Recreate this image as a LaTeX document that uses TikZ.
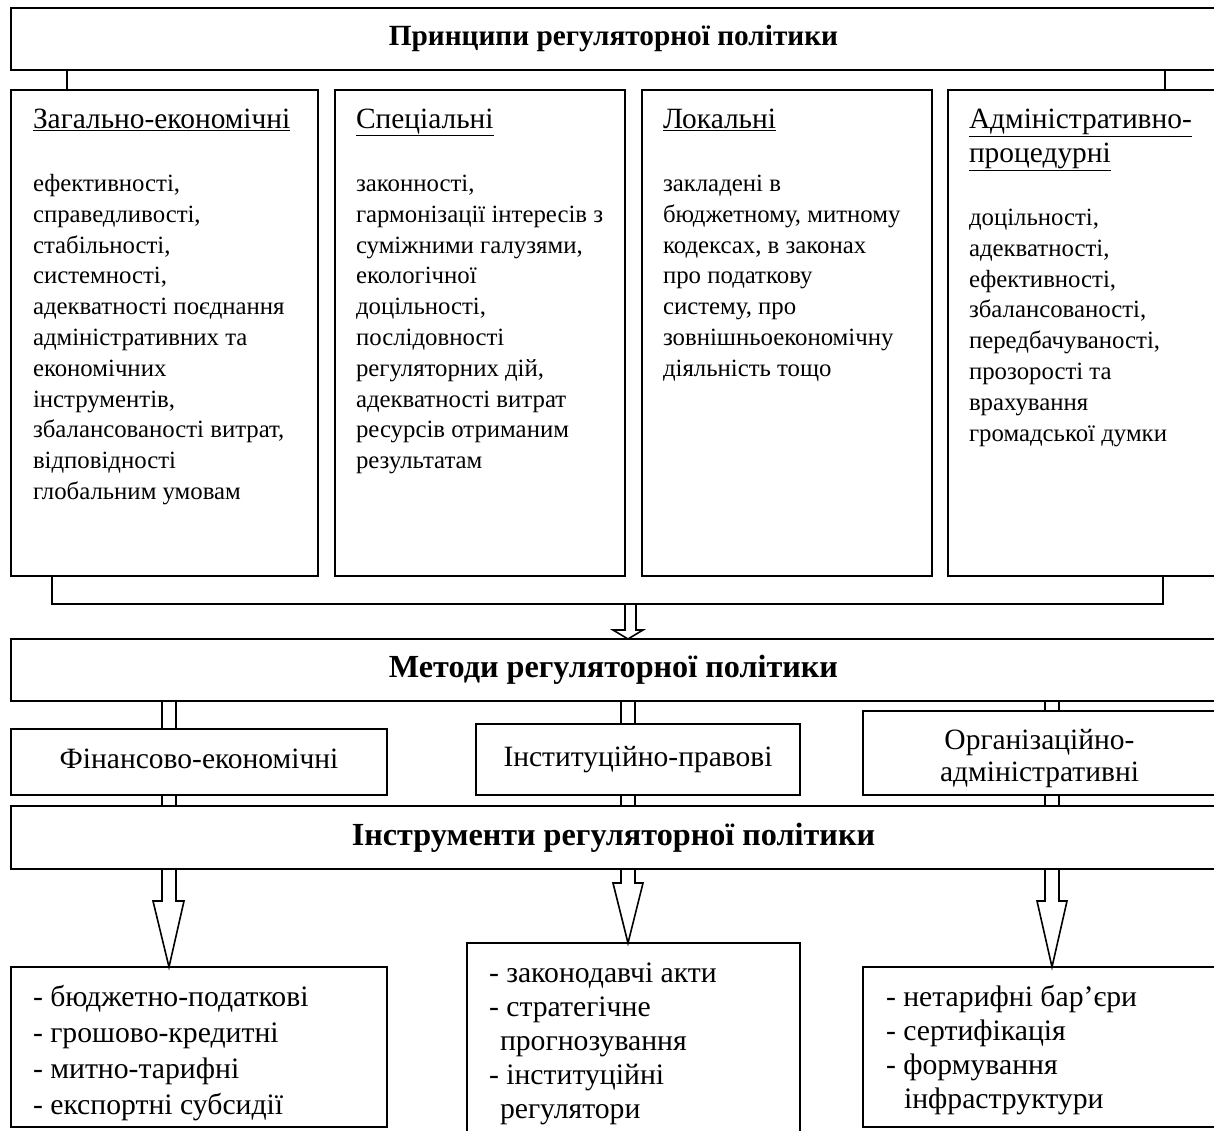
\documentclass[tikz,border=0pt]{standalone}
\usepackage{fontspec}
\setmainfont{Liberation Serif}
\newcommand\fbodyx{\fontsize{24.8}{30.8}\selectfont}
\newcommand\fphx{\fontsize{29.4}{30.8}\selectfont}
\newcommand\ftopx{\fontsize{29.3}{33}\selectfont\bfseries}
\newcommand\fheadx{\fontsize{32.2}{36}\selectfont\bfseries}
\newcommand\fmethx{\fontsize{29.5}{32}\selectfont}
\newcommand\fbotx{\fontsize{29.7}{36}\selectfont}
\newcommand\fbotyx{\fontsize{29.7}{34}\selectfont}
\begin{document}
\begin{tikzpicture}[x=1pt,y=-1pt,line width=1.6pt,
  box/.style={draw, line width=1.6pt, inner sep=0pt, outer sep=0pt, anchor=north west},
  txt/.style={anchor=north west, inner sep=0pt, outer sep=0pt, align=left},
  ptxt/.style={txt, font=\fbodyx},
  phead/.style={txt, font=\fphx},
  btxt/.style={txt, font=\fbotx},
  hollow/.style={line width=1.6pt, line join=miter}]
\useasboundingbox (0,0) rectangle (1214,1131);
\clip (0,0) rectangle (1214,1131);
\fill[white] (0,0) rectangle (1214,1131);

% top level
\node[box, minimum width=1205pt, minimum height=62pt, font=\ftopx] (top) at (11,8) {Принципи регуляторної політики};

% principles
\node[box, minimum width=307pt, minimum height=486pt] (p1) at (11,90) {};
\node[box, minimum width=290pt, minimum height=486pt] (p2) at (335,90) {};
\node[box, minimum width=290pt, minimum height=486pt] (p3) at (642,90) {};
\node[box, minimum width=268pt, minimum height=486pt] (p4) at (948,90) {};

\node[phead] (p1h) at (33,106.7) {\strut\underline{Загально-економічні}};
\node[phead] (p2h) at (356,106.7) {\strut\underline{Спеціальні}};
\node[phead] (p3h) at (663,106.7) {\strut\underline{Локальні}};
\node[phead, font=\fontsize{29.4}{34}\selectfont] (p4h) at (969,104.5) {\strut\underline{Адміністративно-}\\\underline{процедурні}};

\node[ptxt] (p1b) at (33,170) {\strut ефективності,\\справедливості,\\стабільності,\\системності,\\адекватності поєднання\\адміністративних та\\економічних\\інструментів,\\збалансованості витрат,\\відповідності\\глобальним умовам};
\node[ptxt] (p2b) at (356,170) {\strut законності,\\гармонізації інтересів з\\суміжними галузями,\\екологічної\\доцільності,\\послідовності\\регуляторних дій,\\адекватності витрат\\ресурсів отриманим\\результатам};
\node[ptxt] (p3b) at (663,170) {\strut закладені в\\бюджетному, митному\\кодексах, в законах\\про податкову\\систему, про\\зовнішньоекономічну\\діяльність тощо};
\node[ptxt] (p4b) at (969,204) {\strut доцільності,\\адекватності,\\ефективності,\\збалансованості,\\передбачуваності,\\прозорості та\\врахування\\громадської думки};

% connectors top -> principles
\coordinate (cL) at (67,0);
\coordinate (cR) at (1165,0);
\draw (top.south -| cL) -- (p1.north -| cL);
\draw (top.south -| cR) -- (p4.north -| cR);

% bracket under principles
\coordinate (bl) at (52,0);
\coordinate (br) at (1163,0);
\coordinate (bb) at (0,604);
\draw (p1.south -| bl) -- (bl |- bb) -- (br |- bb) -- (p4.south -| br);

% methods
\node[box, minimum width=1205pt, minimum height=62pt, font=\fheadx] (meth) at (11,639) {Методи регуляторної політики};

% hollow arrow bracket -> methods
\coordinate (t1) at (625,0);
\coordinate (t2) at (636,0);
\coordinate (tA) at (628,0);
\draw[hollow] (bb -| t1) -- ++(0,26) -- ++(-12,0) -- (meth.north -| tA) -- ++(15,-9) -- ++(-7,0) -- (bb -| t2);

% method boxes
\node[box, minimum width=376pt, minimum height=66pt, font=\fmethx, text depth=0pt, text height=0pt] (m1) at (11,729) {\raisebox{-6pt}{Фінансово-економічні}};
\node[box, minimum width=324pt, minimum height=71pt, font=\fmethx] (m2) at (476,724) {\raisebox{2pt}{Інституційно-правові}};
\node[box, minimum width=353pt, minimum height=84pt] (m3) at (863,711) {};
\node[font=\fmethx, align=center, inner sep=0pt, yshift=-6pt] (m3t) at (m3.center) {Організаційно-\\адміністративні};

% instruments
\node[box, minimum width=1205pt, minimum height=63pt, font=\fheadx] (instr) at (11,806) {Інструменти регуляторної політики};

% double connectors
\coordinate (dL1) at (162,0); \coordinate (dL2) at (176,0);
\coordinate (dM1) at (621,0); \coordinate (dM2) at (635,0);
\coordinate (dR1) at (1045,0); \coordinate (dR2) at (1059,0);
\foreach \c in {dL1,dL2} {
  \draw (meth.south -| \c) -- (m1.north -| \c);
  \draw (m1.south -| \c) -- (instr.north -| \c);
}
\foreach \c in {dM1,dM2} {
  \draw (meth.south -| \c) -- (m2.north -| \c);
  \draw (m2.south -| \c) -- (instr.north -| \c);
}
\foreach \c in {dR1,dR2} {
  \draw (meth.south -| \c) -- (m3.north -| \c);
  \draw (m3.south -| \c) -- (instr.north -| \c);
}

% bottom boxes
\node[box, minimum width=376pt, minimum height=160pt] (b1) at (11,967) {};
\node[box, minimum width=333pt, minimum height=202pt] (b2) at (467,943) {};
\node[box, minimum width=353pt, minimum height=160pt] (b3) at (863,967) {};

% hollow arrows to bottom boxes
\coordinate (aL) at (169,0);
\coordinate (aM) at (628,0);
\coordinate (aR) at (1052,0);
\draw[hollow] (instr.south -| dL1) -- ++(0,32) -- ++(-9,0) -- (b1.north -| aL) -- ++(15,-66) -- ++(-8,0) -- (instr.south -| dL2);
\draw[hollow] (instr.south -| dM1) -- ++(0,14) -- ++(-8,0) -- (b2.north -| aM) -- ++(15,-60) -- ++(-8,0) -- (instr.south -| dM2);
\draw[hollow] (instr.south -| dR1) -- ++(0,32) -- ++(-8,0) -- (b3.north -| aR) -- ++(15,-66) -- ++(-8,0) -- (instr.south -| dR2);

% bottom texts
\node[btxt] (b1t) at (33,980.8) {\strut- бюджетно-податкові\\- грошово-кредитні\\- митно-тарифні\\- експортні субсидії};
\node[btxt, font=\fbotyx] (b2t) at (489,958.2) {\strut- законодавчі акти\\- стратегічне\\\hspace*{11pt}прогнозування\\- інституційні\\\hspace*{11pt}регулятори};
\node[btxt, font=\fbotyx] (b3t) at (886,982.2) {\strut- нетарифні бар’єри\\- сертифікація\\- формування\\\hspace*{18pt}інфраструктури};
\end{tikzpicture}
\end{document}
